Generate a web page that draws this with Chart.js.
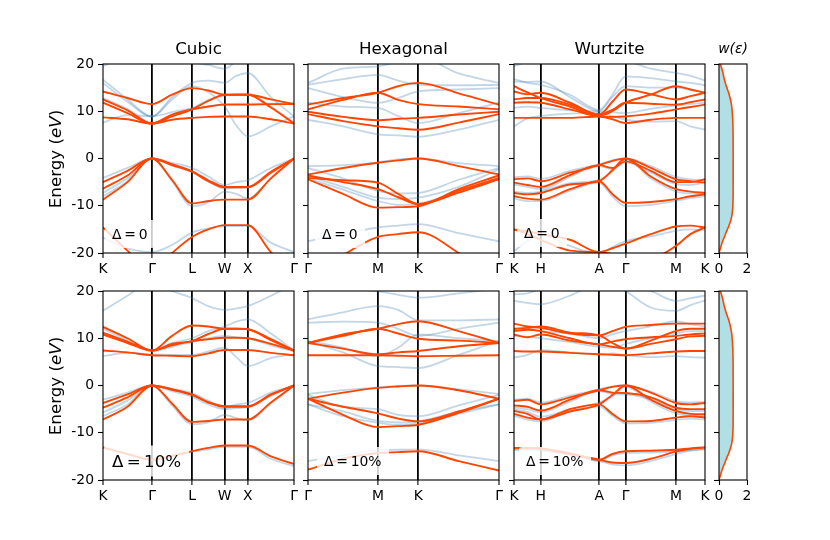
<!DOCTYPE html>
<html>
<head>
<meta charset="utf-8">
<script src="https://cdn.jsdelivr.net/npm/chart.js@4.4.1/dist/chart.umd.min.js"></script>
<style>
  html, body { margin: 0; padding: 0; background: #fff; }
  #wrap { position: relative; width: 830px; height: 540px; background: #fff; overflow: hidden; font-family: 'DejaVu Sans', sans-serif; }
  #wrap canvas { position: absolute; left: 0; top: 0; }
  .lbl { position: absolute; white-space: nowrap; color: #000; transform: translate(-50%, -50%); z-index: 5; }
  .dl { position: absolute; white-space: nowrap; color: #000; transform: translateY(-50%); background: rgba(255,255,255,0.8); z-index: 5; border-radius: 3px; }
  .ylab { position: absolute; white-space: nowrap; color: #000; font-size: 16.7px; transform: translate(-50%, -50%) rotate(-90deg); z-index: 5; }
</style>
</head>
<body>
<div id="wrap">
  <canvas id="c00" width="830" height="540"></canvas>
  <canvas id="c01" width="830" height="540"></canvas>
  <canvas id="c02" width="830" height="540"></canvas>
  <canvas id="c03" width="830" height="540"></canvas>
  <canvas id="c10" width="830" height="540"></canvas>
  <canvas id="c11" width="830" height="540"></canvas>
  <canvas id="c12" width="830" height="540"></canvas>
  <canvas id="c13" width="830" height="540"></canvas>

  <div class="lbl" style="left:198.5px;top:48px;font-size:16.7px;">Cubic</div>
  <div class="lbl" style="left:403.5px;top:48px;font-size:16.7px;">Hexagonal</div>
  <div class="lbl" style="left:609.5px;top:48px;font-size:16.7px;">Wurtzite</div>
  <div class="lbl" style="left:733px;top:48px;font-size:13.9px;font-style:italic;">w(ε)</div>

  <div class="ylab" style="left:55px;top:158.5px;">Energy (<i>eV</i>)</div>
  <div class="ylab" style="left:55px;top:385.5px;">Energy (<i>eV</i>)</div>

  <div class="dl" style="left:105px;top:234px;font-size:13.9px;line-height:16px;padding:6px 7px;">Δ&thinsp;=&thinsp;0</div>
  <div class="dl" style="left:315px;top:234px;font-size:13.9px;line-height:16px;padding:6px 7px;">Δ&thinsp;=&thinsp;0</div>
  <div class="dl" style="left:517px;top:233px;font-size:13.9px;line-height:16px;padding:6px 7px;">Δ&thinsp;=&thinsp;0</div>
  <div class="dl" style="left:104px;top:461px;font-size:16.7px;line-height:19px;padding:6px 8px;">Δ&thinsp;=&thinsp;10%</div>
  <div class="dl" style="left:317px;top:461px;font-size:13.9px;line-height:16px;padding:6px 7px;">Δ&thinsp;=&thinsp;10%</div>
  <div class="dl" style="left:519px;top:460.5px;font-size:13.9px;line-height:16px;padding:6px 7px;">Δ&thinsp;=&thinsp;10%</div>
</div>
<script>
// ---------------- k-path sample positions and tick labels ----------------
const cubicX = [0, 0.530, 1.061, 1.494, 1.927, 2.280, 2.634, 2.884, 3.134, 3.634, 4.134];
const cubicTicks = [0, 1.061, 1.927, 2.634, 3.134, 4.134];
const cubicLabels = ['K', 'Γ', 'L', 'W', 'X', 'Γ'];

const hexX = [0, 0.289, 0.577, 0.744, 0.911, 1.244, 1.577];
const hexTicks = [0, 0.577, 0.911, 1.577];
const hexLabels = ['Γ', 'M', 'K', 'Γ'];

const wzX = [0, 0.07, 0.14, 0.293, 0.446, 0.515, 0.584, 0.716, 0.848, 0.924, 1.0];
const wzTicks = [0, 0.14, 0.446, 0.584, 0.848, 1.0];
const wzLabels = ['K', 'H', 'A', 'Γ', 'M', 'K'];

const energyTicks = [-20, -10, 0, 10, 20];

// ---------------- Cubic, Δ = 0 ----------------
const cubic0Red = [
  [8.7, 8.3, 7.4, 8.2, 8.6, 8.8, 8.9, 8.9, 8.9, 8.3, 7.4],
  [11.8, 9.6, 7.4, 9.3, 10.4, 11.0, 11.4, 11.4, 11.4, 11.5, 11.5],
  [12.5, 10.2, 7.4, 8.9, 10.4, 12.2, 13.5, 13.5, 13.5, 10.8, 7.4],
  [14.2, 12.8, 11.5, 13.5, 14.9, 14.4, 13.5, 13.5, 13.5, 12.5, 11.5],
  [-5.0, -2.6, 0, -1.2, -2.7, -4.6, -6.0, -6.0, -6.0, -2.8, 0],
  [-6.4, -3.6, 0, -1.4, -2.8, -4.8, -6.1, -6.1, -6.1, -3.0, 0],
  [-8.7, -5.0, 0, -4.5, -9.5, -9.0, -8.7, -8.7, -8.7, -4.2, 0],
  [-14.6, -19.5, -24, -20.0, -16.6, -15.0, -14.1, -14.1, -14.1, -19.8, -24]
];
const cubic0Blue = [
  [16.7, 12.5, 8.9, 13.0, 16.0, 16.5, 16.0, 17.5, 18.1, 13.0, 8.9],
  [16.0, 12.0, 8.9, 12.5, 15.3, 14.0, 11.0, 7.0, 4.7, 6.8, 8.9],
  [7.6, 9.2, 8.9, 9.8, 10.6, 11.0, 11.5, 11.6, 11.6, 11.6, 11.8],
  [12.8, 10.5, 7.6, 9.2, 10.6, 12.4, 13.3, 13.6, 13.8, 11.0, 7.6],
  [19.5, 22, 24, 22, 20.5, 19.8, 19.0, 20.5, 21, 22, 23],
  [-4.1, -2.0, 0, -0.9, -2.0, -3.8, -5.6, -5.0, -4.6, -2.0, 0],
  [-7.3, -4.2, 0, -1.5, -2.9, -4.9, -6.4, -6.2, -6.1, -3.0, 0],
  [-8.0, -4.8, 0, -4.8, -10.1, -9.3, -7.0, -7.5, -8.5, -4.2, 0],
  [-16.8, -19.0, -19.8, -18.3, -15.7, -14.8, -14.3, -14.3, -14.3, -17.8, -19.8]
];

// ---------------- Hexagonal, Δ = 0 ----------------
const hex0Red = [
  [9.4, 7.9, 6.8, 6.4, 6.1, 7.6, 9.4],
  [9.9, 8.8, 8.1, 8.4, 8.6, 9.3, 9.9],
  [10.4, 12.4, 13.9, 12.4, 11.5, 11.0, 10.4],
  [11.4, 12.8, 13.9, 15.3, 16.0, 13.8, 11.4],
  [-3.4, -2.0, -0.9, -0.4, 0, -1.6, -3.4],
  [-4.1, -4.6, -5.1, -7.5, -9.6, -6.8, -4.1],
  [-3.6, -5.0, -6.5, -8.2, -9.7, -7.2, -4.4],
  [-4.4, -7.5, -10.4, -10.3, -10.1, -6.5, -3.6],
  [-26, -20.5, -16.6, -16.0, -15.6, -20.0, -26]
];
const hex0Blue = [
  [8.2, 6.8, 5.1, 4.9, 4.6, 6.1, 8.2],
  [11.8, 11.0, 10.7, 9.0, 7.5, 9.6, 11.8],
  [14.9, 13.0, 11.8, 12.8, 14.2, 14.6, 14.9],
  [15.6, 16.8, 17.7, 16.5, 15.6, 15.5, 15.6],
  [16.0, 19.0, 19.5, 20.5, 21.5, 18.0, 16.0],
  [-1.6, -1.4, -0.8, -0.2, 0, -1.0, -1.6],
  [-2.0, -4.2, -6.9, -7.4, -7.3, -4.5, -2.0],
  [-3.7, -6.0, -8.3, -8.6, -8.3, -6.0, -2.3],
  [-4.2, -6.6, -9.0, -9.8, -9.6, -6.8, -4.4],
  [-17.5, -16.0, -14.6, -14.2, -13.9, -15.8, -17.5]
];

// ---------------- Wurtzite, Δ = 0 ----------------
const wz0Red = [
  [8.6, 8.6, 8.6, 8.6, 8.9, 8.3, 7.5, 8.2, 8.6, 8.6, 8.6],
  [11.8, 11.9, 11.8, 10.4, 8.9, 8.8, 8.9, 9.5, 10.4, 10.9, 11.4],
  [12.5, 12.8, 12.8, 11.4, 9.3, 10.3, 11.8, 11.6, 11.4, 11.9, 12.5],
  [14.2, 13.6, 13.9, 11.8, 9.3, 12.0, 14.6, 13.6, 12.5, 13.2, 13.9],
  [15.3, 14.0, 12.8, 11.0, 9.0, 10.0, 11.8, 13.5, 15.3, 14.6, 13.9],
  [-4.4, -4.2, -4.8, -3.0, -1.4, -0.5, 0, -2.0, -4.4, -4.8, -5.1],
  [-5.1, -5.6, -6.0, -3.5, -1.4, -2.0, -0.6, -2.6, -5.0, -5.0, -4.4],
  [-7.3, -7.6, -7.3, -5.5, -4.8, -2.5, 0, -3.8, -6.5, -7.0, -7.3],
  [-8.0, -8.5, -8.7, -6.5, -4.8, -7.5, -9.4, -9.2, -8.6, -8.0, -7.6],
  [-15.0, -15.4, -16.0, -17.2, -19.8, -19.0, -18.0, -16.0, -14.4, -14.2, -14.6],
  [-15.0, -16.0, -17.2, -19.5, -19.8, -20.2, -20.5, -21.0, -18.5, -16.0, -14.6]
];
const wz0Blue = [
  [6.8, 8.5, 9.0, 9.5, 9.6, 9.0, 8.2, 7.8, 7.9, 6.8, 6.1],
  [10.7, 11.0, 10.7, 10.2, 10.0, 9.8, 9.6, 10.5, 11.2, 11.5, 11.8],
  [16.3, 16.2, 16.3, 13.0, 10.0, 13.0, 15.3, 15.0, 15.0, 14.5, 14.0],
  [16.8, 16.0, 15.6, 13.5, 10.3, 13.5, 17.4, 17.0, 16.3, 16.0, 15.5],
  [19.5, 20.5, 21.0, 21.5, 21.5, 20.5, 20.5, 19.0, 18.1, 17.5, 16.5],
  [-4.0, -3.8, -4.3, -2.6, -1.2, -0.4, 0, -1.6, -3.9, -4.4, -4.6],
  [-5.5, -6.0, -6.5, -3.9, -1.6, -2.3, -0.8, -3.0, -5.4, -5.6, -5.0],
  [-7.0, -7.3, -7.0, -5.2, -4.5, -2.8, -0.2, -4.2, -7.0, -7.4, -7.6],
  [-8.5, -9.0, -9.0, -6.8, -5.1, -8.0, -10.1, -9.8, -9.0, -8.4, -8.0],
  [-19.6, -17.5, -16.0, -18.5, -20.3, -18.8, -17.5, -16.5, -15.3, -15.0, -15.2]
];

// ---------------- Cubic, Δ = 10% ----------------
const cubic10Red = [
  [7.4, 7.0, 6.4, 6.3, 6.2, 6.8, 7.5, 7.5, 7.5, 6.9, 6.4],
  [10.8, 9.0, 7.4, 8.5, 9.4, 9.8, 10.1, 10.1, 10.0, 8.8, 7.4],
  [11.2, 9.3, 7.4, 8.8, 9.4, 10.9, 12.0, 12.0, 11.9, 9.6, 7.4],
  [12.4, 10.0, 7.4, 10.5, 12.7, 12.5, 12.0, 12.0, 11.9, 9.8, 7.4],
  [-3.7, -1.9, 0, -0.8, -1.9, -3.5, -4.4, -4.4, -4.4, -1.9, 0],
  [-4.7, -2.5, 0, -0.9, -2.0, -3.6, -4.5, -4.5, -4.5, -2.0, 0],
  [-7.2, -4.5, 0, -3.8, -7.7, -7.5, -7.2, -7.2, -7.2, -3.6, 0],
  [-13.1, -14.5, -15.7, -14.9, -13.9, -13.2, -12.7, -12.7, -12.7, -15.0, -16.6]
];
const cubic10Blue = [
  [6.2, 6.9, 6.6, 6.5, 6.5, 7.2, 8.0, 6.0, 4.1, 5.8, 6.6],
  [15.8, 19.0, 22.0, 20.0, 18.5, 16.8, 16.0, 16.3, 16.8, 19.0, 21.5],
  [11.0, 9.2, 7.4, 9.0, 10.0, 11.5, 12.5, 13.5, 14.0, 11.0, 7.4],
  [12.0, 9.6, 7.2, 8.2, 9.2, 10.0, 10.5, 10.2, 10.0, 8.5, 7.2],
  [-3.0, -1.5, 0, -0.7, -1.6, -3.2, -4.8, -4.0, -3.7, -1.5, 0],
  [-5.7, -3.2, 0, -1.2, -2.4, -4.0, -5.0, -4.8, -4.6, -2.2, 0],
  [-6.5, -4.0, 0, -4.2, -8.2, -7.8, -6.2, -6.9, -7.4, -3.8, 0],
  [-13.0, -14.6, -15.8, -15.0, -14.0, -13.5, -13.0, -13.0, -13.0, -15.5, -17.1]
];

// ---------------- Hexagonal, Δ = 10% ----------------
const hex10Red = [
  [6.4, 6.4, 6.4, 6.3, 6.2, 6.3, 6.4],
  [9.0, 7.8, 6.6, 7.0, 7.3, 8.3, 9.0],
  [9.0, 10.5, 12.0, 11.0, 9.9, 9.5, 9.0],
  [9.0, 10.8, 12.0, 13.0, 13.6, 11.5, 9.0],
  [-2.8, -1.5, -0.5, -0.2, 0, -1.0, -2.8],
  [-2.8, -4.5, -5.9, -7.0, -7.6, -5.5, -2.8],
  [-2.8, -6.2, -8.8, -8.6, -8.3, -5.8, -2.8],
  [-17.8, -15.5, -14.3, -14.1, -13.9, -16.0, -18.0]
];
const hex10Blue = [
  [9.4, 7.0, 4.1, 3.9, 3.7, 6.5, 9.4],
  [9.4, 8.0, 6.2, 8.0, 10.8, 10.0, 9.4],
  [13.3, 13.5, 13.3, 12.0, 10.5, 12.0, 13.3],
  [14.0, 15.5, 16.8, 16.0, 13.8, 13.8, 14.0],
  [20.5, 20.5, 19.9, 19.2, 18.6, 19.5, 20.5],
  [-1.8, -1.0, -0.4, -0.1, 0, -0.8, -1.8],
  [-2.0, -4.5, -5.0, -6.2, -6.5, -4.2, -2.0],
  [-4.0, -5.5, -7.5, -7.8, -7.6, -5.5, -4.0],
  [-4.0, -6.5, -7.9, -8.3, -8.0, -6.0, -4.0],
  [-16.0, -14.8, -13.7, -13.6, -13.5, -14.8, -16.0]
];

// ---------------- Wurtzite, Δ = 10% ----------------
const wz10Red = [
  [7.3, 7.2, 7.2, 6.9, 6.6, 6.5, 6.4, 6.8, 7.2, 7.3, 7.3],
  [10.8, 10.2, 10.8, 9.5, 8.7, 8.2, 7.8, 8.8, 9.8, 10.4, 10.5],
  [11.5, 11.8, 11.5, 10.0, 8.7, 9.3, 9.8, 10.2, 10.5, 10.8, 11.0],
  [13.1, 12.5, 12.2, 11.0, 10.6, 11.5, 12.4, 12.8, 13.1, 13.1, 13.1],
  [12.0, 12.2, 12.5, 11.2, 10.6, 9.0, 7.8, 9.5, 11.5, 12.0, 12.0],
  [-3.3, -3.0, -4.0, -2.5, -1.0, -0.3, 0, -1.5, -3.7, -4.0, -3.7],
  [-4.2, -4.5, -5.3, -3.0, -1.0, -1.5, -1.6, -2.5, -4.7, -5.0, -5.0],
  [-5.4, -6.0, -7.2, -5.5, -4.0, -2.0, 0, -3.0, -5.4, -6.0, -6.1],
  [-6.0, -6.8, -7.2, -5.0, -4.0, -6.0, -7.6, -7.5, -6.8, -6.5, -6.8],
  [-13.2, -13.2, -13.3, -14.3, -15.7, -14.5, -13.9, -13.8, -13.6, -13.3, -13.1],
  [-13.2, -13.2, -13.4, -14.5, -15.7, -16.3, -16.4, -15.5, -14.0, -13.4, -13.1]
];
const wz10Blue = [
  [5.9, 6.5, 7.5, 7.0, 6.6, 6.8, 6.4, 6.0, 6.2, 6.0, 5.9],
  [10.5, 10.3, 10.0, 9.2, 8.2, 8.0, 8.8, 10.0, 11.0, 11.5, 11.5],
  [12.0, 12.0, 11.5, 11.0, 10.0, 10.8, 11.5, 12.5, 13.6, 13.0, 12.5],
  [17.9, 17.5, 17.2, 19.0, 21.5, 21.5, 20.0, 16.5, 15.8, 17.0, 18.0],
  [19.3, 19.5, 20.5, 22.0, 22.0, 22.0, 21.5, 20.0, 17.9, 18.5, 19.0],
  [-3.0, -2.8, -3.6, -2.2, -0.8, -0.2, 0, -1.3, -3.3, -3.6, -3.4],
  [-4.6, -5.0, -5.7, -3.4, -1.2, -1.8, -1.9, -2.9, -5.0, -5.4, -5.4],
  [-5.0, -5.6, -6.6, -5.0, -3.6, -2.3, -0.3, -3.4, -5.9, -6.4, -6.5],
  [-6.4, -7.2, -7.6, -5.4, -4.4, -6.4, -8.0, -7.9, -7.3, -7.0, -7.2],
  [-13.6, -13.6, -13.7, -14.7, -16.0, -16.7, -16.9, -16.0, -14.5, -13.8, -13.5],
  [-13.5, -13.5, -13.6, -14.6, -16.0, -14.8, -14.3, -14.2, -14.0, -13.7, -13.4]
];

// ---------------- window function w(ε) ----------------
const dosE = [-20, -19.3, -18.5, -17.5, -16.5, -15.4, -14.3, -13.3, -12.2, -11.2, -10, -6, 0, 6, 9.3, 11.4, 13.5, 15.6, 17.0, 18.4, 19.3, 20];
const dosW = [0, 0.07, 0.15, 0.26, 0.40, 0.54, 0.70, 0.82, 0.91, 0.96, 0.99, 1.01, 1.01, 1.0, 0.96, 0.89, 0.73, 0.49, 0.36, 0.26, 0.17, 0.10];
const dosTicks = [0, 2];

// ---------------- styling / layout ----------------
const RED = '#ff4500';
const BLUE = 'rgba(70,130,180,0.33)';
const TICK_FONT = { family: "'DejaVu Sans', sans-serif", size: 13.9 };
const Y_AXIS_W = 40, X_AXIS_H = 30;

Chart.defaults.font.family = "'DejaVu Sans', sans-serif";
Chart.defaults.color = '#000';

const framePlugin = {
  id: 'frame',
  afterDraw(chart) {
    const a = chart.chartArea, ctx = chart.ctx;
    ctx.save();
    ctx.strokeStyle = '#000';
    ctx.lineWidth = 1.1;
    ctx.strokeRect(a.left, a.top, a.right - a.left, a.bottom - a.top);
    ctx.restore();
  }
};

function padFor(box) {
  return { left: box.l - Y_AXIS_W, top: box.t, right: 830 - box.r, bottom: 540 - box.b - X_AXIS_H };
}

function yScale(showLabels) {
  return {
    type: 'linear', min: -20, max: 20,
    afterBuildTicks: s => { s.ticks = energyTicks.map(v => ({ value: v })); },
    ticks: { display: showLabels, padding: 4, font: TICK_FONT, color: '#000' },
    grid: { drawOnChartArea: false, drawTicks: true, tickLength: 5, tickWidth: 1.1, tickColor: '#000', color: '#000' },
    border: { display: false },
    afterFit: s => { s.width = Y_AXIS_W; }
  };
}

function bandPanel(id, box, xs, ticks, labels, blue, red, showY) {
  const toPts = ys => ys.map((y, i) => ({ x: xs[i], y: y }));
  const datasets = [];
  red.forEach(b => datasets.push({ data: toPts(b), borderColor: RED, borderWidth: 1.9, pointRadius: 0, cubicInterpolationMode: 'monotone', fill: false }));
  blue.forEach(b => datasets.push({ data: toPts(b), borderColor: BLUE, borderWidth: 1.8, pointRadius: 0, cubicInterpolationMode: 'monotone', fill: false }));
  new Chart(document.getElementById(id), {
    type: 'line',
    data: { datasets },
    plugins: [framePlugin],
    options: {
      responsive: false, animation: false, devicePixelRatio: 1,
      layout: { padding: padFor(box) },
      plugins: { legend: { display: false }, tooltip: { enabled: false }, title: { display: false } },
      events: [],
      scales: {
        x: {
          type: 'linear', min: xs[0], max: xs[xs.length - 1], z: 1,
          afterBuildTicks: s => { s.ticks = ticks.map(v => ({ value: v })); },
          ticks: { autoSkip: false, maxRotation: 0, padding: 3, font: TICK_FONT, color: '#000',
                   callback: (v, i) => labels[i] },
          grid: {
            drawOnChartArea: true, drawTicks: true, tickLength: 5, tickWidth: 1.1, tickColor: '#000',
            color: '#000',
            lineWidth: c => (c.index === 0 || c.index === ticks.length - 1) ? 0 : 1.8
          },
          border: { display: false },
          afterFit: s => { s.height = X_AXIS_H; }
        },
        y: yScale(showY)
      }
    }
  });
}

function dosPanel(id, box) {
  new Chart(document.getElementById(id), {
    type: 'line',
    data: { datasets: [{
      data: dosE.map((e, i) => ({ x: dosW[i], y: e })),
      borderColor: RED, borderWidth: 1.6, pointRadius: 0,
      backgroundColor: '#b0e0e6', fill: 'origin', cubicInterpolationMode: 'monotone'
    }] },
    plugins: [framePlugin],
    options: {
      indexAxis: 'y',
      responsive: false, animation: false, devicePixelRatio: 1,
      layout: { padding: padFor(box) },
      plugins: { legend: { display: false }, tooltip: { enabled: false } },
      events: [],
      scales: {
        x: {
          type: 'linear', min: 0, max: 2,
          afterBuildTicks: s => { s.ticks = dosTicks.map(v => ({ value: v })); },
          ticks: { autoSkip: false, maxRotation: 0, padding: 3, font: TICK_FONT, color: '#000' },
          grid: { drawOnChartArea: false, drawTicks: true, tickLength: 5, tickWidth: 1.1, tickColor: '#000', color: '#000' },
          border: { display: false },
          afterFit: s => { s.height = X_AXIS_H; }
        },
        y: yScale(false)
      }
    }
  });
}

const rowTop = { t: 64, b: 253 };
const rowBot = { t: 291, b: 480 };
const colCubic = { l: 103, r: 294 };
const colHex = { l: 308, r: 499 };
const colWz = { l: 514, r: 705 };
const colDos = { l: 719, r: 747 };
const B = (c, r) => ({ l: c.l, r: c.r, t: r.t, b: r.b });

bandPanel('c00', B(colCubic, rowTop), cubicX, cubicTicks, cubicLabels, cubic0Blue, cubic0Red, true);
bandPanel('c01', B(colHex, rowTop), hexX, hexTicks, hexLabels, hex0Blue, hex0Red, false);
bandPanel('c02', B(colWz, rowTop), wzX, wzTicks, wzLabels, wz0Blue, wz0Red, false);
dosPanel('c03', B(colDos, rowTop));
bandPanel('c10', B(colCubic, rowBot), cubicX, cubicTicks, cubicLabels, cubic10Blue, cubic10Red, true);
bandPanel('c11', B(colHex, rowBot), hexX, hexTicks, hexLabels, hex10Blue, hex10Red, false);
bandPanel('c12', B(colWz, rowBot), wzX, wzTicks, wzLabels, wz10Blue, wz10Red, false);
dosPanel('c13', B(colDos, rowBot));
</script>
</body>
</html>
